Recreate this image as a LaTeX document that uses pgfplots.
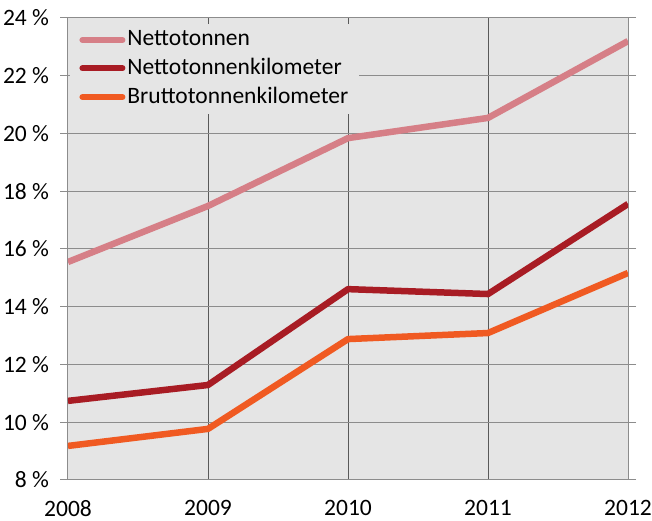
\documentclass[border=0pt]{standalone}
\usepackage{pgfplots}
\pgfplotsset{compat=1.18}
\usepackage{fontspec}
\setmainfont{Carlito}
\definecolor{bgc}{HTML}{E5E5E5}
\definecolor{netto}{HTML}{D67F87}
\definecolor{nettokm}{HTML}{A81C24}
\definecolor{brutto}{HTML}{F05A22}
\begin{document}
\fontsize{23.5}{28}\selectfont
\begin{tikzpicture}
\begin{axis}[
scale only axis,
width=560pt, height=462pt,
xmin=2008, xmax=2012, ymin=8, ymax=24,
xtick={2008,2009,2010,2011,2012},
xticklabels={2008,2009,2010,2011,2012},
ytick={8,10,12,14,16,18,20,22,24},
yticklabels={8 \%,10 \%,12 \%,14 \%,16 \%,18 \%,20 \%,22 \%,24 \%},
/pgf/number format/assume math mode=true,
axis background/.style={fill=bgc},
axis line style={draw=black!45, line width=1pt},
xmajorgrids, ymajorgrids,
x grid style={draw=black!65, line width=1pt},
y grid style={draw=black!45, line width=1pt},
tick align=outside,
xtick style={draw=none},
ytick style={draw=black!45, line width=1pt},
major tick length=8pt,
tick label style={font=\fontsize{23.5}{28}\selectfont},
yticklabel style={xshift=-3pt},
xticklabel style={yshift=-4pt},
every axis plot/.append style={line width=6.5pt, line join=round},
legend style={at={(0.004,0.988)}, anchor=north west, fill=bgc, draw=none,
  font=\fontsize{23.5}{28}\selectfont, row sep=5pt, inner xsep=9pt, inner ysep=5pt},
legend cell align=left,
legend image code/.code={\draw[#1, line width=6pt, line cap=round] (0pt,0pt) -- (40pt,0pt);},
]
\addplot[color=netto] coordinates {(2008,15.55) (2009,17.49) (2010,19.84) (2011,20.54) (2012,23.2)};
\addlegendentry{Nettotonnen}
\addplot[color=nettokm] coordinates {(2008,10.74) (2009,11.29) (2010,14.61) (2011,14.44) (2012,17.56)};
\addlegendentry{Nettotonnenkilometer}
\addplot[color=brutto] coordinates {(2008,9.18) (2009,9.77) (2010,12.88) (2011,13.09) (2012,15.17)};
\addlegendentry{Bruttotonnenkilometer}
\end{axis}
\pgfresetboundingbox
\path (-68pt,-41pt) rectangle (584pt,480pt);
\end{tikzpicture}
\end{document}
